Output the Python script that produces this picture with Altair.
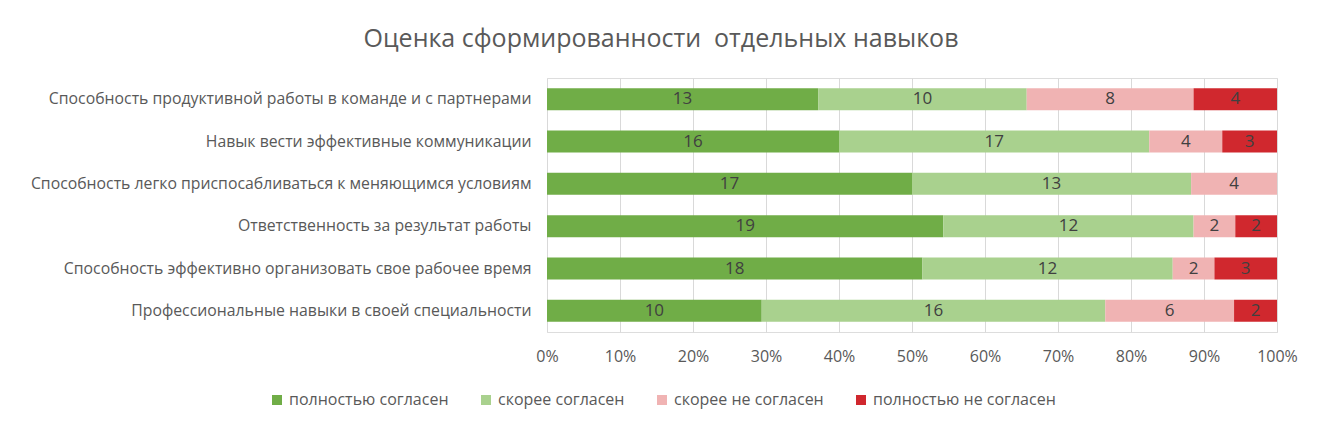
import altair as alt
import pandas as pd

categories = [
    "Способность продуктивной работы в команде и с партнерами",
    "Навык вести эффективные коммуникации",
    "Способность легко приспосабливаться к меняющимся условиям",
    "Ответственность за результат работы",
    "Способность эффективно организовать свое рабочее время",
    "Профессиональные навыки в своей специальности",
]
series = ["полностью согласен", "скорее согласен", "скорее не согласен", "полностью не согласен"]
full_agree = [13, 16, 17, 19, 18, 10]
rather_agree = [10, 17, 13, 12, 12, 16]
rather_disagree = [8, 4, 4, 2, 2, 6]
full_disagree = [4, 3, 0, 2, 3, 2]
colors = ["#70AD47", "#A9D18E", "#F0B3B3", "#D0282E"]
tick_values = [0, 0.1, 0.2, 0.3, 0.4, 0.5, 0.6, 0.7, 0.8, 0.9, 1.0]

rows = []
for s_i, (name, vals) in enumerate(zip(series, [full_agree, rather_agree, rather_disagree, full_disagree])):
    for c, v in zip(categories, vals):
        rows.append({"cat": c, "series": name, "ord": s_i, "value": v})
df = pd.DataFrame(rows)

FONT = "Open Sans"

base = alt.Chart(df).transform_joinaggregate(
    total="sum(value)", groupby=["cat"]
).transform_window(
    cum="sum(value)", sort=[alt.SortField("ord")], groupby=["cat"], frame=[None, 0]
).transform_calculate(
    start="(datum.cum - datum.value) / datum.total",
    end="datum.cum / datum.total",
    mid="(datum.cum - datum.value / 2) / datum.total",
)

y_enc = alt.Y(
    "cat:N",
    sort=categories,
    title=None,
    scale=alt.Scale(paddingInner=0.48, paddingOuter=0.24),
    axis=alt.Axis(
        domain=False, ticks=False, labelPadding=16, labelFont=FONT,
        labelFontSize=15.8, labelColor="#595959", labelLimit=700,
    ),
)

bars = base.mark_bar().encode(
    x=alt.X(
        "start:Q",
        scale=alt.Scale(domain=[0, 1]),
        title=None,
        axis=alt.Axis(
            values=tick_values, format=".0%", domain=False, ticks=False,
            grid=True, gridColor="#D9D9D9", labelFont=FONT, labelFontSize=16,
            labelColor="#595959", labelPadding=16, labelFlush=False,
        ),
    ),
    x2="end:Q",
    y=y_enc,
    color=alt.Color(
        "series:N",
        scale=alt.Scale(domain=series, range=colors),
        title=None,
        legend=alt.Legend(
            orient="none", direction="horizontal", legendX=-278, legendY=314,
            symbolType="square", symbolSize=100, symbolStrokeWidth=0,
            labelFont=FONT, labelFontSize=16, labelColor="#595959",
            columnPadding=29, labelOffset=4, labelLimit=400,
        ),
    ),
)

labels = base.transform_filter("datum.value > 0").mark_text(
    font=FONT, fontSize=17, color="#404040"
).encode(
    x=alt.X("mid:Q"),
    y=alt.Y("cat:N", sort=categories),
    text=alt.Text("value:Q"),
)

chart = alt.layer(bars, labels).properties(
    width=730,
    height=254,
    autosize=alt.AutoSizeParams(type="none"),
    padding={"left": 539, "top": 70, "right": 37, "bottom": 91},
    title=alt.TitleParams(
        "Оценка сформированности\u00a0 отдельных навыков",
        font=FONT, fontSize=25, fontWeight="normal", color="#595959",
        anchor="middle", dx=-251, offset=26,
    ),
).configure_view(stroke=None).configure(background="white")

chart.save("out.html", embed_options={"renderer": "svg", "actions": False})
